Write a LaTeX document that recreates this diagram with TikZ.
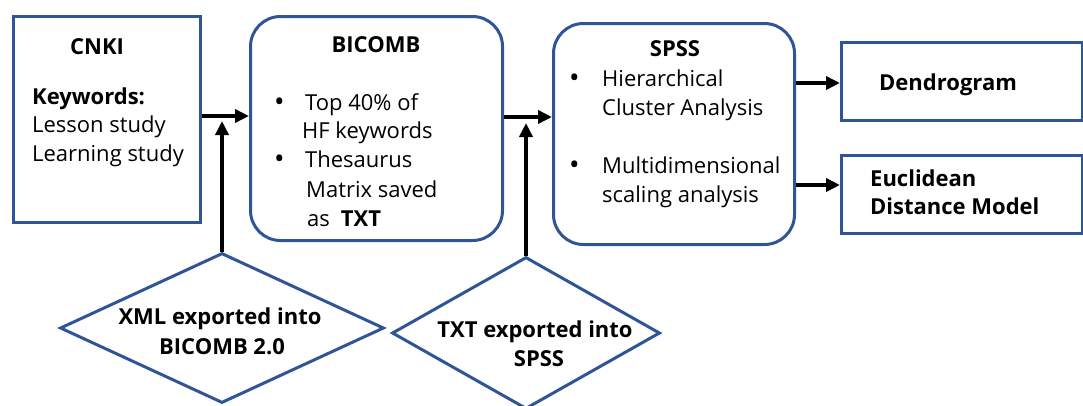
\documentclass[tikz,border=0pt]{standalone}
\usepackage{fontspec}
\setmainfont{Open Sans}
\usetikzlibrary{arrows.meta,shapes.geometric}
\definecolor{boxblue}{RGB}{47,85,151}
\begin{document}
\begin{tikzpicture}[x=1pt,y=-1pt,
  box/.style={draw=boxblue,line width=3pt,rectangle,anchor=north west,inner sep=0pt},
  rbox/.style={box,rounded corners=30pt},
  dia/.style={draw=boxblue,line width=3pt,diamond,inner sep=0pt},
  arr/.style={line width=3.5pt,-{Triangle[length=14pt,width=13pt]}},
  txt/.style={anchor=base west,inner sep=0pt,font=\fontsize{22}{29}\selectfont},
  bul/.style={anchor=base west,inner sep=0pt,font=\fontsize{28}{29}\selectfont},
  btxt/.style={txt,font=\fontsize{22}{29}\selectfont\bfseries},
  ctr/.style={anchor=base,inner sep=0pt,font=\fontsize{22}{29}\selectfont\bfseries},
]
\useasboundingbox (0,0) rectangle (1083,405);

% boxes
\node[box,minimum width=187pt,minimum height=206pt] (cnki) at (12,15) {};
\node[rbox,minimum width=252pt,minimum height=224pt] (bicomb) at (249,15) {};
\node[rbox,minimum width=241pt,minimum height=221pt] (spss) at (552,22) {};
\node[box,minimum width=241pt,minimum height=78pt] (dendro) at (840,41) {};
\node[box,minimum width=241pt,minimum height=78pt] (euclid) at (840,154) {};
\node[dia,minimum width=324pt,minimum height=150pt] (d1) at (222,328) {};
\node[dia,minimum width=268pt,minimum height=152pt] (d2) at (526,333) {};

% CNKI text
\node[ctr] (t1) at (97,54) {CNKI};
\node[btxt] (t2) at (32,104) {Keywords:};
\node[txt] (t3) at (32,132) {Lesson study};
\node[txt] (t4) at (32,161) {Learning study};

% BICOMB text
\node[ctr] (b0) at (376,52) {BICOMB};
\node[bul] (b1d) at (274,111.5) {•};
\node[txt] (b1) at (305,110) {Top 40\% of};
\node[txt] (b2) at (302,138) {HF keywords};
\node[bul] (b2d) at (274,168.5) {•};
\node[txt] (b3) at (305,167) {Thesaurus};
\node[txt] (b4) at (306,197) {Matrix saved};
\node[txt] (b5) at (307,226) {as\hspace{11pt}\textbf{TXT}};

% SPSS text
\node[ctr] (s0) at (675,56) {SPSS};
\node[bul] (s1d) at (569,87.5) {•};
\node[txt] (s1) at (602,86) {Hierarchical};
\node[txt] (s2) at (602,115) {Cluster Analysis};
\node[bul] (s3d) at (569,174.5) {•};
\node[txt] (s3) at (602,173) {Multidimensional};
\node[txt] (s4) at (602,202) {scaling analysis};

% output boxes text
\node[btxt] (dt) at (879,90) {Dendrogram};
\node[btxt] (e1) at (870,186) {Euclidean};
\node[btxt] (e2) at (870,214) {Distance Model};

% diamond text
\node[ctr] (x1) at (220,324) {XML exported into};
\node[ctr] (x2) at (222,354) {BICOMB 2.0};
\node[ctr] (y1) at (535,337) {TXT exported into};
\node[ctr] (y2) at (539,366) {SPSS};

% connectors
\coordinate (j1) at (222,121);
\coordinate (j2) at (526,123);
\draw[arr] (cnki.east |- 0,116) -- (bicomb.west |- 0,116);
\draw[arr] (d1.north) -- (j1);
\draw[arr] (bicomb.east |- 0,117) -- (spss.west |- 0,117);
\draw[arr] (d2.north) -- (j2);
\draw[arr] (spss.east |- 0,83) -- (dendro.west |- 0,83);
\draw[arr] (spss.east |- 0,185) -- (euclid.west |- 0,185);
\end{tikzpicture}
\end{document}
